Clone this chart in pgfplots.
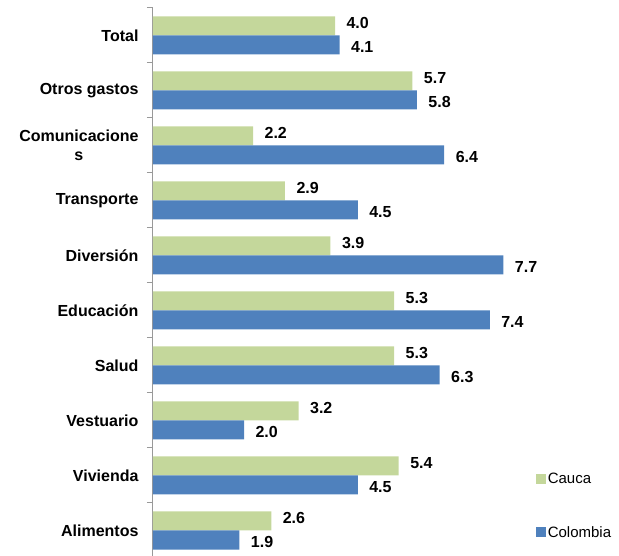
\documentclass[border=0pt]{standalone}
\usepackage{pgfplots}
\pgfplotsset{compat=1.18}
\usepackage{fontspec}
\setmainfont{Liberation Sans}
\definecolor{cauca}{RGB}{196,215,155}
\definecolor{colom}{RGB}{79,129,189}
\begin{document}
\begin{tikzpicture}
\path[use as bounding box] (-153pt,0pt) rectangle (466pt,555pt);
\begin{axis}[
 at={(0pt,-3pt)}, anchor=south west,
 scale only axis, width=466pt, height=550pt,
 xmin=0, xmax=10.24, ymin=-0.5, ymax=9.5,
 axis x line=none, axis y line*=left,
 y axis line style={draw=gray!80, line width=1pt},
 xbar, bar width=19pt,
 ytick={0,...,9},
 yticklabels={Alimentos,Vivienda,Vestuario,Salud,Educación,Diversión,Transporte,Comunicacione\\s,Otros gastos,Total},
 yticklabel style={font=\fontsize{16}{19}\selectfont\bfseries, align=center, xshift=-11pt},
 major tick length=0pt,
 minor ytick={-0.5,0.5,...,9.5},
 minor tick length=6pt, tick align=outside,
 minor tick style={gray!80, line width=1pt},
 nodes near coords={\pgfmathprintnumber[fixed,fixed zerofill,precision=1]{\pgfplotspointmeta}},
 nodes near coords style={font=\fontsize{16}{19}\selectfont\bfseries, anchor=west, xshift=8pt},
 /pgf/number format/assume math mode=true,
 legend image code/.code={\fill[#1] (0pt,-4.5pt) rectangle (10pt,5pt);},
 legend style={draw=none, fill=none, font=\fontsize{15}{17}\selectfont, at={(rel axis cs:0.821,0.158)}, anchor=north west, row sep=37pt, inner sep=0pt},
 legend cell align=left,
]
\addplot[fill=cauca, draw=none, bar shift=9.5pt, nodes near coords style={yshift=3pt}] coordinates {
(2.6,0) (5.4,1) (3.2,2) (5.3,3) (5.3,4) (3.9,5) (2.9,6) (2.2,7) (5.7,8) (4.0,9)};
\addplot[fill=colom, draw=none, bar shift=-9.5pt, nodes near coords style={yshift=-2pt}] coordinates {
(1.9,0) (4.5,1) (2.0,2) (6.3,3) (7.4,4) (7.7,5) (4.5,6) (6.4,7) (5.8,8) (4.1,9)};
\legend{Cauca,Colombia}
\end{axis}
\end{tikzpicture}
\end{document}
